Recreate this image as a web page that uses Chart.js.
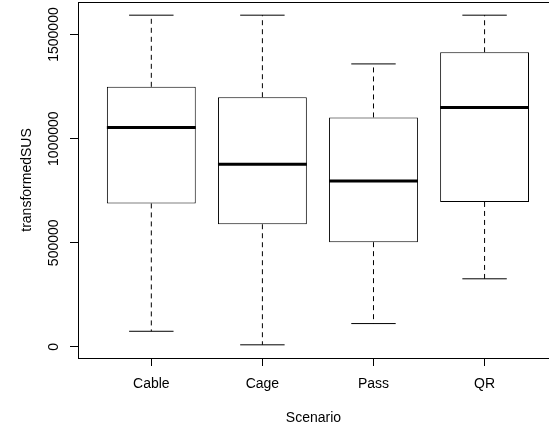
<!DOCTYPE html>
<html lang="en">
<head>
    <meta charset="UTF-8">
    <title>transformedSUS by Scenario</title>
    <script src="https://cdn.jsdelivr.net/npm/chart.js"></script>
    <style>
        body { margin: 0; background: #fff; }
    </style>
</head>
<body>
    <div style="width: 549px; height: 431px;">
        <canvas id="boxChart" width="549" height="431"></canvas>
    </div>

    <script>
        // five-number summaries
        const scenarios = ['Cable', 'Cage', 'Pass', 'QR'];
        const whiskerLow = [75000, 10000, 112000, 327000];
        const q1 = [689000, 589000, 503000, 696000];
        const median = [1054000, 877000, 797000, 1150000];
        const q3 = [1249000, 1199000, 1102000, 1415000];
        const whiskerHigh = [1593000, 1593000, 1359000, 1593000];
        const yTicks = [0, 500000, 1000000, 1500000];

        const FONT = "'Liberation Sans', Arial, Helvetica, sans-serif";

        // R style axis range: data range stretched by 4%
        const lo = Math.min(...whiskerLow), hi = Math.max(...whiskerHigh);
        const pad = (hi - lo) * 0.04;

        // line segments separated by gaps (null)
        function segments(fn) {
            const pts = [];
            scenarios.forEach((s, i) => {
                fn(i + 1, i).forEach(p => pts.push(p));
                pts.push({ x: i + 1, y: null });
            });
            return pts;
        }

        const whiskers = segments((x, i) => [
            { x: x, y: q3[i] }, { x: x, y: whiskerHigh[i] }, { x: x, y: null },
            { x: x, y: q1[i] }, { x: x, y: whiskerLow[i] }
        ]);
        const caps = segments((x, i) => [
            { x: x - 0.2, y: whiskerHigh[i] }, { x: x + 0.2, y: whiskerHigh[i] }, { x: x, y: null },
            { x: x - 0.2, y: whiskerLow[i] }, { x: x + 0.2, y: whiskerLow[i] }
        ]);
        const medians = segments((x, i) => [
            { x: x - 0.4, y: median[i] }, { x: x + 0.4, y: median[i] }
        ]);

        // rotated y tick labels and the top frame line
        const rFrame = {
            id: 'rFrame',
            afterDraw(chart) {
                const ctx = chart.ctx, a = chart.chartArea, y = chart.scales.y;
                ctx.save();
                ctx.strokeStyle = '#000';
                ctx.lineWidth = 1;
                ctx.beginPath();
                ctx.moveTo(a.left, a.top + 0.5);
                ctx.lineTo(a.right, a.top + 0.5);
                ctx.stroke();
                ctx.fillStyle = '#000';
                ctx.font = '14px ' + FONT;
                ctx.textAlign = 'center';
                ctx.textBaseline = 'middle';
                yTicks.forEach(v => {
                    ctx.save();
                    ctx.translate(53, y.getPixelForValue(v));
                    ctx.rotate(-Math.PI / 2);
                    ctx.fillText(String(v), 0, 1);
                    ctx.restore();
                });
                ctx.restore();
            }
        };

        new Chart(document.getElementById('boxChart'), {
            type: 'bar',
            data: {
                datasets: [
                    {
                        type: 'line', data: medians, order: 0,
                        borderColor: '#000', borderWidth: 3, pointRadius: 0, spanGaps: false
                    },
                    {
                        type: 'line', data: caps, order: 1,
                        borderColor: '#000', borderWidth: 1, pointRadius: 0, spanGaps: false
                    },
                    {
                        type: 'line', data: whiskers, order: 1,
                        borderColor: '#000', borderWidth: 1, borderDash: [5, 4],
                        pointRadius: 0, spanGaps: false
                    },
                    {
                        data: scenarios.map((s, i) => ({ x: i + 1, y: [q1[i], q3[i]] })),
                        order: 2,
                        backgroundColor: '#fff', borderColor: '#000', borderWidth: 1,
                        borderSkipped: false, categoryPercentage: 1, barPercentage: 0.8
                    }
                ]
            },
            options: {
                responsive: false,
                animation: false,
                layout: { padding: { top: 2, right: 0, left: 0, bottom: 0 } },
                plugins: { legend: { display: false }, tooltip: { enabled: false } },
                scales: {
                    x: {
                        type: 'linear',
                        min: 0.34,
                        max: 4.58,
                        offset: false,
                        afterBuildTicks: s => { s.ticks = scenarios.map((c, i) => ({ value: i + 1 })); },
                        afterFit: s => { s.height = 73; },
                        grid: {
                            display: true, offset: false, drawOnChartArea: false,
                            drawTicks: true, tickLength: 8, color: '#000'
                        },
                        border: { display: true, color: '#000', width: 1 },
                        ticks: {
                            color: '#000', padding: 10, maxRotation: 0, autoSkip: false,
                            font: { family: FONT, size: 14 },
                            callback: v => scenarios[v - 1]
                        },
                        title: {
                            display: true, text: 'Scenario', color: '#000',
                            font: { family: FONT, size: 14 }, padding: { top: 0, bottom: 4 }
                        }
                    },
                    y: {
                        min: lo - pad,
                        max: hi + pad,
                        afterBuildTicks: s => { s.ticks = yTicks.map(v => ({ value: v })); },
                        afterFit: s => { s.width = 78; },
                        grid: { display: true, drawOnChartArea: false, drawTicks: true, tickLength: 8, color: '#000' },
                        border: { display: true, color: '#000', width: 1 },
                        ticks: { display: false },
                        title: {
                            display: true, text: 'transformedSUS', color: '#000',
                            font: { family: FONT, size: 14 }, padding: { top: 19, bottom: 0 }
                        }
                    }
                }
            },
            plugins: [rFrame]
        });
    </script>
</body>
</html>
